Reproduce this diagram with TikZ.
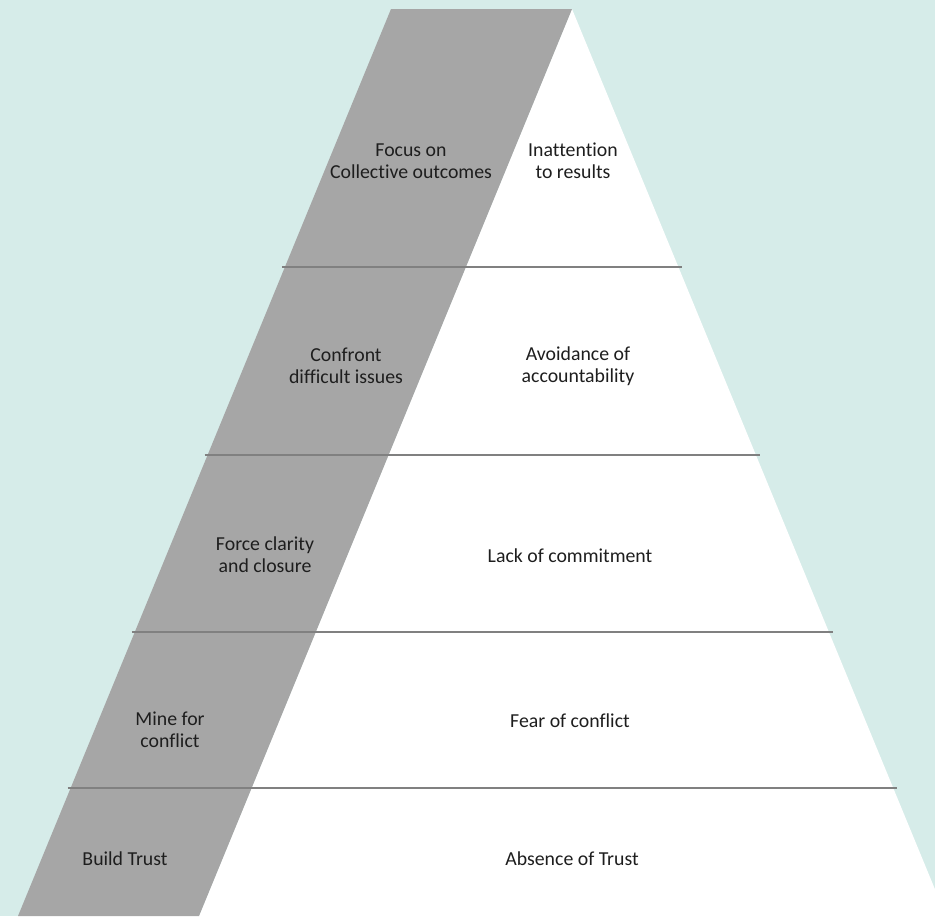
\documentclass[tikz,border=0pt]{standalone}
\usepackage{fontspec}
\setmainfont{Carlito}[Ligatures=NoCommon]
\usetikzlibrary{calc}

\definecolor{bgteal}{RGB}{214,236,233}
\definecolor{bandgray}{RGB}{166,166,166}
\definecolor{rulegray}{RGB}{128,128,128}
\definecolor{inkgray}{RGB}{30,30,30}

\begin{document}
\begin{tikzpicture}[
    x=0.5pt, y=-0.5pt,
    lbl/.style={
        align=center,
        inner sep=0pt,
        text=inkgray,
        font=\fontsize{9.9}{11}\selectfont
    },
    tier/.style={draw=rulegray, line width=1pt, shorten <=-1.5pt, shorten >=-2pt}
]
\fill[bgteal] (0,0) rectangle (935,916);
\useasboundingbox (0,0) rectangle (935,916);
\clip (0,0) rectangle (935,916);

% pyramid and the slanted band
\coordinate (apex) at (572,9);
\coordinate (bandtop) at (391,9);
\coordinate (bandbot) at (18,916);
\coordinate (basemid) at (199,916);
\coordinate (baseright) at (946,916);
\fill[white] (apex) -- (baseright) -- (basemid) -- cycle;
\fill[bandgray] (bandtop) -- (apex) -- (basemid) -- (bandbot) -- cycle;

% tier lines
\foreach \y [count=\i] in {267,455,632,788} {
    \pgfmathsetmacro{\t}{(\y-9)/907}
    \coordinate (tl\i) at ($(bandtop)!\t!(bandbot)$);
    \coordinate (tr\i) at ($(apex)!\t!(baseright)$);
    \draw[tier] (tl\i) -- (tr\i);
}

% remedies on the band
\node[lbl] (focus) at (411,161) {Focus on\\Collective outcomes};
\node[lbl] (confront) at (346,366) {Confront\\difficult issues};
\node[lbl] (force) at (265,555) {Force clarity\\and closure};
\node[lbl] (mine) at (170,730) {Mine for\\conflict};
\node[lbl] (build) at (125,859) {Build Trust};

% dysfunctions
\node[lbl] (inattention) at (573,161) {Inattention\\to results};
\node[lbl] (avoidance) at (578,366) {Avoidance of\\accountability};
\node[lbl] (lack) at (570,556) {Lack of commitment};
\node[lbl] (fear) at (570,721) {Fear of conflict};
\node[lbl] (absence) at (572,859) {Absence of Trust};
\end{tikzpicture}
\end{document}
